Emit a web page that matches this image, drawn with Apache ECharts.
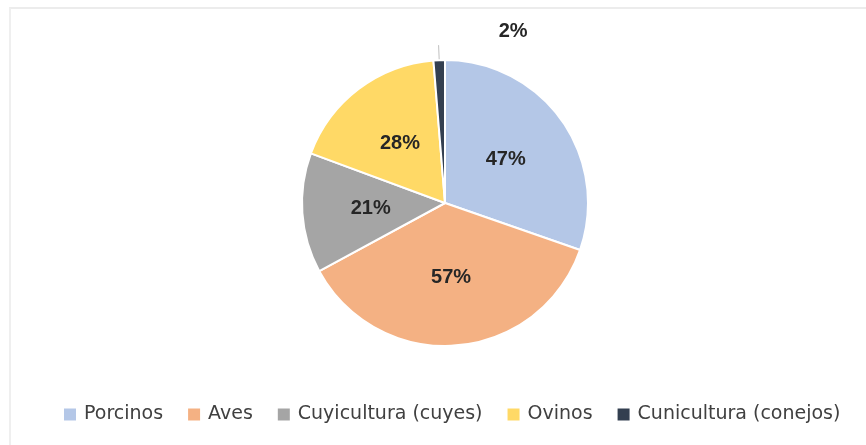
<!DOCTYPE html>
<html>
<head>
<meta charset="utf-8">
<script src="https://cdn.jsdelivr.net/npm/echarts@6/dist/echarts.min.js"></script>
<style>
  html, body { margin: 0; padding: 0; background: #fff; }
  .frame {
    position: absolute; left: 9px; top: 7px; right: 0; bottom: 0;
    border-top: 2px solid #ececec; border-left: 2px solid #efefef;
  }
  #chart { position: absolute; left: 0; top: 0; width: 866px; height: 445px; }
</style>
</head>
<body>
<div class="frame"></div>
<div id="chart"></div>
<script>
const categories = ['Porcinos', 'Aves', 'Cuyicultura (cuyes)', 'Ovinos', 'Cunicultura (conejos)']
const values = [47, 57, 21, 28, 2]
const colors = ['#b4c7e7', '#f4b183', '#a5a5a5', '#ffd966', '#333f50']

const chart = echarts.init(document.getElementById('chart'))

// Values are shown as-is with a % sign (they don't sum to 100 in the source).
const data = categories.map((name, i) => {
  const item = { name, value: values[i], itemStyle: { color: colors[i] } }
  if (i === categories.length - 1) {
    // tiny slice: label sits outside, up and to the right, with a short leader
    item.label = { position: 'outside', distanceToLabelLine: 4 }
    item.labelLine = { show: true, length: 15, length2: 0, lineStyle: { color: '#bfbfbf', width: 1 } }
  }
  return item
})

chart.setOption({
  animation: false,
  color: colors,
  legend: {
    data: categories,
    left: 57,
    top: 400,
    icon: 'rect',
    itemWidth: 14,
    itemHeight: 14,
    itemGap: 23,
    textStyle: { fontFamily: 'DejaVu Sans', fontSize: 19, color: '#404040', padding: [0, 0, 0, 2] },
  },
  series: [
    {
      type: 'pie',
      center: [445, 203],
      radius: 143,
      startAngle: 90,
      clockwise: true,
      avoidLabelOverlap: false,
      data,
      itemStyle: { borderColor: '#fff', borderWidth: 2 },
      label: {
        position: 'inside',
        formatter: (p) => p.value + '%',
        fontFamily: 'Liberation Sans',
        fontWeight: 'bold',
        fontSize: 20,
        color: '#262626',
      },
      labelLayout: (params) => {
        if (params.dataIndex !== categories.length - 1) return {}
        return { dx: 93, dy: -14, labelLinePoints: params.labelLinePoints }
      },
    },
  ],
})
</script>
</body>
</html>
